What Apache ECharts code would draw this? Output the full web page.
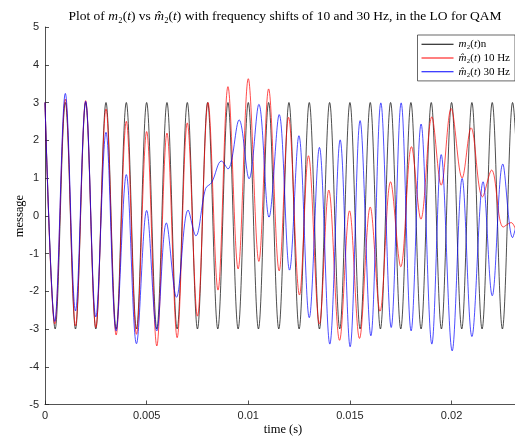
<!DOCTYPE html>
<html>
<head>
<meta charset="utf-8">
<script src="https://cdn.jsdelivr.net/npm/echarts@6/dist/echarts.min.js"></script>
<style>
  html, body { margin: 0; padding: 0; background: #fff; }
  #chart { width: 515px; height: 438px; }
</style>
</head>
<body>
<div id="chart"></div>
<script>
// Turning points of each waveform: time in ms, amplitude in message units.
const blackT = [0, 0.5, 1, 1.5, 2, 2.5, 3, 3.5, 4, 4.5, 5, 5.5, 6, 6.5, 7, 7.5, 8, 8.5, 9, 9.5,
  10, 10.5, 11, 11.5, 12, 12.5, 13, 13.5, 14, 14.5, 15, 15.5, 16, 16.5, 17, 17.5, 18, 18.5, 19, 19.5,
  20, 20.5, 21, 21.5, 22, 22.5, 23, 23.5];
const blackV = [3, -3, 3, -3, 3, -3, 3, -3, 3, -3, 3, -3, 3, -3, 3, -3, 3, -3, 3, -3,
  3, -3, 3, -3, 3, -3, 3, -3, 3, -3, 3, -3, 3, -3, 3, -3, 3, -3, 3, -3,
  3, -3, 3, -3, 3, -3, 3, -3];

const redT = [0, 0.48, 1, 1.5, 2, 2.5, 3, 3.5, 4, 4.5, 5, 5.5, 6, 6.5, 7, 7.5, 8.02, 8.51, 9, 9.5,
  10, 10.52, 11, 11.52, 11.98, 12.52, 12.96, 13.5, 13.96, 14.49, 14.98, 15.47, 16, 16.48, 17, 17.5,
  18.03, 18.49, 19.03, 19.49, 19.98, 20.52, 20.96, 21.52, 21.97, 22.54, 22.93, 23.2];
const redV = [3, -2.87, 3.09, -2.92, 3.05, -2.96, 2.83, -3.16, 2.5, -3.14, 2.23, -3.45, 2.19, -3.23, 2.46, -2.66, 3.0, -1.97, 3.42, -1.41,
  3.63, -1.21, 3.36, -1.46, 2.61, -2.1, 1.59, -2.87, 0.68, -3.3, 0.13, -3.25, 0.23, -2.53, 0.9, -1.35,
  1.83, -0.09, 2.62, 0.81, 2.84, 1.0, 2.33, 0.5, 1.21, -0.3, -0.18, -0.45];

const blueT = [0, 0.48, 1, 1.5, 2, 2.5, 3, 3.5, 4, 4.5, 5, 5.5, 5.97, 6.47, 7.04, 7.42, 7.9, 8.2, 8.68, 9,
  9.55, 10.04, 10.52, 11.02, 11.52, 12.03, 12.49, 13, 13.5, 14.01, 14.52, 15.01, 15.5, 16.03, 16.52, 17.03,
  17.52, 18.01, 18.5, 19.03, 19.49, 20.03, 20.52, 21, 21.55, 22, 22.52, 23, 23.2];
const blueV = [3, -2.8, 3.24, -2.52, 3.03, -2.68, 2.21, -3.05, 1.09, -3.39, 0.14, -3.05, -0.19, -2.16, 0.15, -0.53, 0.72, 0.88, 1.45, 1.24,
  2.54, 0.98, 2.95, -0.04, 2.68, -1.44, 2.12, -2.7, 1.81, -3.4, 2.01, -3.47, 2.52, -3.18, 2.99, -2.96,
  2.99, -3.05, 2.43, -3.4, 1.62, -3.58, 0.99, -3.2, 0.9, -2.12, 1.37, -0.58, -0.2];

const xTicks = [0, 0.005, 0.01, 0.015, 0.02];
const yTicks = [-5, -4, -3, -2, -1, 0, 1, 2, 3, 4, 5];

const toPoints = (T, V) => T.map((t, i) => [t / 1000, V[i]]);

const axisColor = '#262626';
const serif = 'Liberation Serif';
const sans = 'Liberation Sans';

const mathRich = {
  i: { fontFamily: serif, fontStyle: 'italic', fontSize: 11, color: '#000' },
  n: { fontFamily: serif, fontSize: 11, color: '#000' }
};

const legendLabels = {
  m2: '{i|m}{n|\u2082(}{i|t}{n|)n}',
  m2hat10: '{i|m\u0302}{n|\u2082(}{i|t}{n|) 10 Hz}',
  m2hat30: '{i|m\u0302}{n|\u2082(}{i|t}{n|) 30 Hz}'
};

const chart = echarts.init(document.getElementById('chart'), null, { renderer: 'canvas' });

chart.setOption({
  animation: false,
  backgroundColor: '#fff',
  title: {
    text: 'Plot of {i|m}\u2082({i|t}) vs {i|m\u0302}\u2082({i|t}) with frequency shifts of 10 and 30 Hz, in the LO for QAM',
    left: 280,
    top: 4,
    textAlign: 'center',
    textStyle: {
      fontFamily: serif,
      fontSize: 13.5,
      fontWeight: 'normal',
      color: '#000',
      rich: {
        i: { fontFamily: serif, fontStyle: 'italic', fontSize: 13.5, color: '#000' }
      }
    }
  },
  grid: { left: 45, right: 0, top: 27, bottom: 33.5, containLabel: false },
  legend: {
    orient: 'vertical',
    right: 0,
    top: 35,
    icon: 'rect',
    itemWidth: 32,
    itemHeight: 1,
    itemGap: 1.2,
    padding: [3, 5, 3, 4],
    backgroundColor: '#fff',
    borderColor: axisColor,
    borderWidth: 0.7,
    borderRadius: 0,
    formatter: (name) => legendLabels[name],
    textStyle: { fontFamily: serif, fontSize: 11, color: '#000', lineHeight: 12.5, rich: mathRich },
    data: [
      { name: 'm2', itemStyle: { color: '#000' } },
      { name: 'm2hat10', itemStyle: { color: '#ff0000' } },
      { name: 'm2hat30', itemStyle: { color: '#0000ff' } }
    ]
  },
  xAxis: {
    type: 'value',
    min: 0,
    max: 0.02312,
    axisLine: { show: true, onZero: false, lineStyle: { color: axisColor, width: 0.8 } },
    axisTick: { show: true, inside: true, length: 4, customValues: xTicks, lineStyle: { color: axisColor, width: 0.8 } },
    axisLabel: { customValues: xTicks, fontFamily: sans, fontSize: 11, color: axisColor, margin: 6 },
    splitLine: { show: false }
  },
  yAxis: {
    type: 'value',
    min: -5,
    max: 5,
    interval: 1,
    axisLine: { show: true, onZero: false, lineStyle: { color: axisColor, width: 0.8 } },
    axisTick: { show: true, inside: true, length: 4, customValues: yTicks, lineStyle: { color: axisColor, width: 0.8 } },
    axisLabel: { customValues: yTicks, fontFamily: sans, fontSize: 11, color: axisColor, margin: 6 },
    splitLine: { show: false }
  },
  graphic: [
    {
      type: 'text',
      x: 283, y: 430,
      style: { text: 'time (s)', fontFamily: serif, fontSize: 12.5, fill: '#000', align: 'center', verticalAlign: 'middle' }
    },
    {
      type: 'text',
      x: 20, y: 216,
      rotation: Math.PI / 2,
      style: { text: 'message', fontFamily: serif, fontSize: 12.5, fill: '#000', align: 'center', verticalAlign: 'middle' }
    }
  ],
  series: [
    {
      name: 'm2', type: 'line', data: toPoints(blackT, blackV),
      showSymbol: false, smooth: 0.36, clip: true,
      lineStyle: { color: '#000', width: 0.7 }, itemStyle: { color: '#000' }
    },
    {
      name: 'm2hat10', type: 'line', data: toPoints(redT, redV),
      showSymbol: false, smooth: 0.36, clip: true,
      lineStyle: { color: '#ff0000', width: 0.7 }, itemStyle: { color: '#ff0000' }
    },
    {
      name: 'm2hat30', type: 'line', data: toPoints(blueT, blueV),
      showSymbol: false, smooth: 0.36, clip: true,
      lineStyle: { color: '#0000ff', width: 0.7 }, itemStyle: { color: '#0000ff' }
    }
  ]
});
</script>
</body>
</html>
